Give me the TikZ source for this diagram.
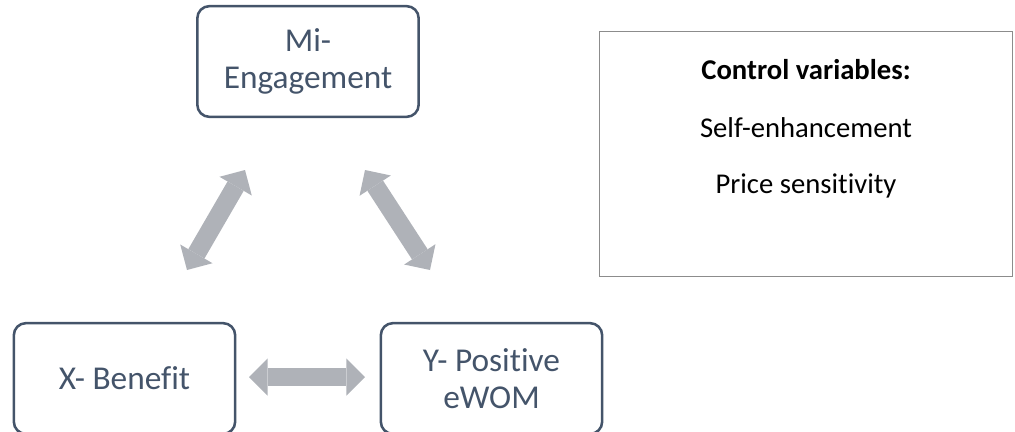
\documentclass[tikz,border=0pt]{standalone}
\usepackage{fontspec}
\setmainfont{Carlito}[Ligatures=NoCommon]
\usepackage{xcolor}
\usetikzlibrary{positioning,arrows.meta}
\definecolor{boxline}{HTML}{44546A}
\definecolor{arrowgray}{HTML}{AFB2B8}
\definecolor{ctrlline}{HTML}{8C8C8C}
\tikzstyle{varbox} = [rectangle, rounded corners=9pt, draw=boxline, line width=1.9pt, minimum width=166pt, minimum height=83pt, align=center, text=boxline, font=\fontsize{25}{27.5}\selectfont]
\tikzstyle{dblarrow} = [draw=arrowgray, line width=14pt, {Triangle[length=14pt, width=28pt, line width=0pt]}-{Triangle[length=14pt, width=28pt, line width=0pt]}]

\begin{document}
\begin{tikzpicture}[x=0.75pt, y=-0.75pt]
    \useasboundingbox (0,0) rectangle (1015,432);

    % Variables
    \node[varbox] (med) at (308,61.5) {Mi-\\Engagement};
    \node[varbox] (xben) at (124.5,378.5) {X- Benefit};
    \node[varbox] (yewom) at (491.5,378.5) {Y- Positive\\eWOM};

    % Control box
    \node[rectangle, draw=ctrlline, line width=0.9pt, minimum width=310pt, minimum height=184pt] (ctrl) at (806,154) {};
    \node[anchor=base, font=\fontsize{21.5}{24}\selectfont\bfseries] (c0) at (806,79) {Control variables:};
    \node[anchor=base, font=\fontsize{21.5}{24}\selectfont] (c1) at (806,137) {Self-enhancement};
    \node[anchor=base, font=\fontsize{21.5}{24}\selectfont] (c2) at (806,193) {Price sensitivity};

    % Arrow ends
    \coordinate (l1) at (187,270);
    \coordinate (l2) at (245,170);
    \coordinate (r1) at (365,170);
    \coordinate (r2) at (430,270);
    \coordinate (h1) at (249,377);
    \coordinate (h2) at (365,377);

    % Arrows
    \draw[dblarrow] (l1) -- (l2);
    \draw[dblarrow] (r1) -- (r2);
    \draw[dblarrow] (h1) -- (h2);
\end{tikzpicture}
\end{document}
